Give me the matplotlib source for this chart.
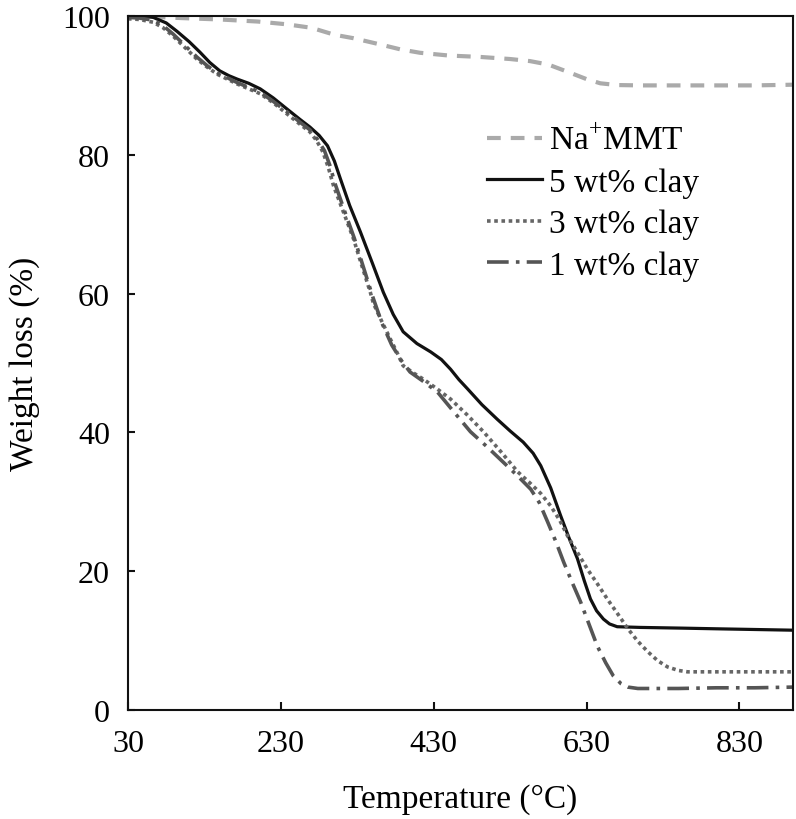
import numpy as np
import matplotlib
matplotlib.use("Agg")
import matplotlib.pyplot as plt

plt.rcParams['font.family'] = ['Liberation Serif', 'DejaVu Serif']
plt.rcParams['mathtext.fontset'] = 'custom'
plt.rcParams['mathtext.rm'] = 'Liberation Serif'

# Na+MMT
t_mmt = [30, 60, 100, 150, 200, 238, 270, 300, 325, 360, 386, 412, 450, 491, 530, 556, 580, 609, 630, 648, 670, 700, 750, 800, 850, 900]
w_mmt = [100, 99.9, 99.7, 99.5, 99.2, 98.8, 98.3, 97.3, 96.8, 95.9, 95.2, 94.7, 94.3, 94.1, 93.8, 93.5, 93.0, 91.8, 90.9, 90.3, 90.05, 90.0, 90.0, 90.0, 90.0, 90.1]

# 5 wt% clay
t_5 = [30, 45, 63, 80, 94, 110, 124, 137, 150, 162, 173, 188, 203, 220, 238, 255, 268, 280, 291, 300, 308, 320, 334, 350, 364, 377, 390, 408, 426, 440, 452, 463, 474, 493, 513, 530, 547, 560, 570, 583, 596, 607, 618, 627, 635, 643, 652, 660, 670, 700, 753, 800, 850, 900]
w_5 = [100, 100, 99.8, 99.0, 97.8, 96.3, 94.8, 93.3, 92.1, 91.4, 90.9, 90.3, 89.5, 88.2, 86.6, 85.1, 84.0, 82.8, 81.3, 79.1, 76.5, 72.7, 68.9, 64.3, 60.2, 57.0, 54.5, 52.8, 51.6, 50.5, 49.1, 47.6, 46.3, 44.0, 41.9, 40.2, 38.6, 37.0, 35.2, 32.0, 28.0, 24.8, 21.8, 18.6, 16.0, 14.3, 13.1, 12.4, 12.0, 11.9, 11.8, 11.7, 11.6, 11.5]

# 3 wt% clay
t_3 = [30, 45, 63, 76, 89, 105, 120, 134, 147, 160, 173, 188, 203, 220, 238, 255, 268, 277, 285, 292, 299, 312, 325, 336, 347, 351, 362, 373, 382, 390, 403, 416, 434, 452, 474, 495, 518, 540, 555, 570, 583, 595, 605, 618, 631, 644, 657, 671, 684, 697, 710, 723, 736, 750, 762, 800, 850, 900]
w_3 = [99.6, 99.5, 99.1, 98.3, 97.1, 95.4, 93.8, 92.6, 91.6, 90.9, 90.2, 89.5, 88.8, 87.5, 85.9, 84.4, 83.3, 82.0, 80.4, 78.2, 75.5, 71.7, 67.9, 64.0, 60.2, 58.6, 56.0, 53.5, 51.5, 49.6, 48.6, 47.7, 46.3, 44.8, 42.5, 40.1, 37.2, 34.3, 32.8, 31.2, 29.4, 27.3, 25.1, 22.7, 20.3, 18.2, 16.0, 13.8, 11.7, 9.9, 8.4, 7.1, 6.2, 5.7, 5.5, 5.5, 5.5, 5.5]

# 1 wt% clay
t_1 = [30, 45, 63, 76, 89, 105, 120, 134, 147, 160, 173, 188, 203, 220, 238, 255, 268, 278, 287, 294, 301, 313, 326, 338, 350, 362, 375, 388, 399, 417, 435, 456, 478, 500, 521, 540, 557, 568, 579, 590, 600, 611, 622, 633, 644, 655, 665, 675, 684, 697, 710, 750, 800, 850, 900]
w_1 = [99.8, 99.7, 99.4, 98.6, 97.4, 95.7, 94.1, 92.8, 91.8, 91.1, 90.4, 89.7, 89.0, 87.7, 86.2, 84.7, 83.6, 82.2, 80.6, 78.5, 75.8, 72.0, 68.0, 63.8, 59.6, 55.8, 52.6, 50.3, 48.7, 47.3, 45.8, 43.0, 40.1, 37.9, 35.7, 33.7, 31.8, 29.9, 27.1, 24.2, 21.3, 18.4, 15.6, 12.4, 9.2, 6.8, 4.9, 3.8, 3.3, 3.1, 3.1, 3.1, 3.2, 3.2, 3.3]

fig = plt.figure(figsize=(7.96, 8.20), dpi=100)
ax = fig.add_axes([128/796, 1 - 711/820, (793-128)/796, (711-17)/820])

ax.plot(t_mmt, w_mmt, color='#aaaaaa', lw=3.0, linestyle=(0, (3.3, 2.4)), label=r'Na$^{+}$MMT')
ax.plot(t_5, w_5, color='#111111', lw=2.3, linestyle='-', label='5 wt% clay')
ax.plot(t_3, w_3, color='#666666', lw=2.6, linestyle=(0, (1, 1)), label='3 wt% clay')
ax.plot(t_1, w_1, color='#555555', lw=2.6, linestyle=(0, (6, 2, 1, 2)), label='1 wt% clay')

ax.set_xlim(30, 900)
ax.set_ylim(0, 100)
ax.set_xticks([30, 230, 430, 630, 830])
ax.set_yticks([0, 20, 40, 60, 80, 100])

for s in ax.spines.values():
    s.set_linewidth(1.5)
    s.set_color('#111111')
ax.tick_params(axis='x', direction='in', length=6, width=1.5, labelsize=23, pad=14, color='#111111')
ax.tick_params(axis='y', direction='in', length=5, width=1.5, labelsize=23, pad=13, color='#111111')

ax.set_xlabel('Temperature (°C)', fontsize=24, labelpad=18)
ax.set_ylabel('Weight loss (%)', fontsize=24, labelpad=16)

leg = ax.legend(loc='upper left', bbox_to_anchor=(0.52, 0.862), frameon=False,
                fontsize=24, handlelength=1.65, handletextpad=0.22, labelspacing=0.33,
                borderaxespad=0)

fig.savefig('out.png', dpi=100)
